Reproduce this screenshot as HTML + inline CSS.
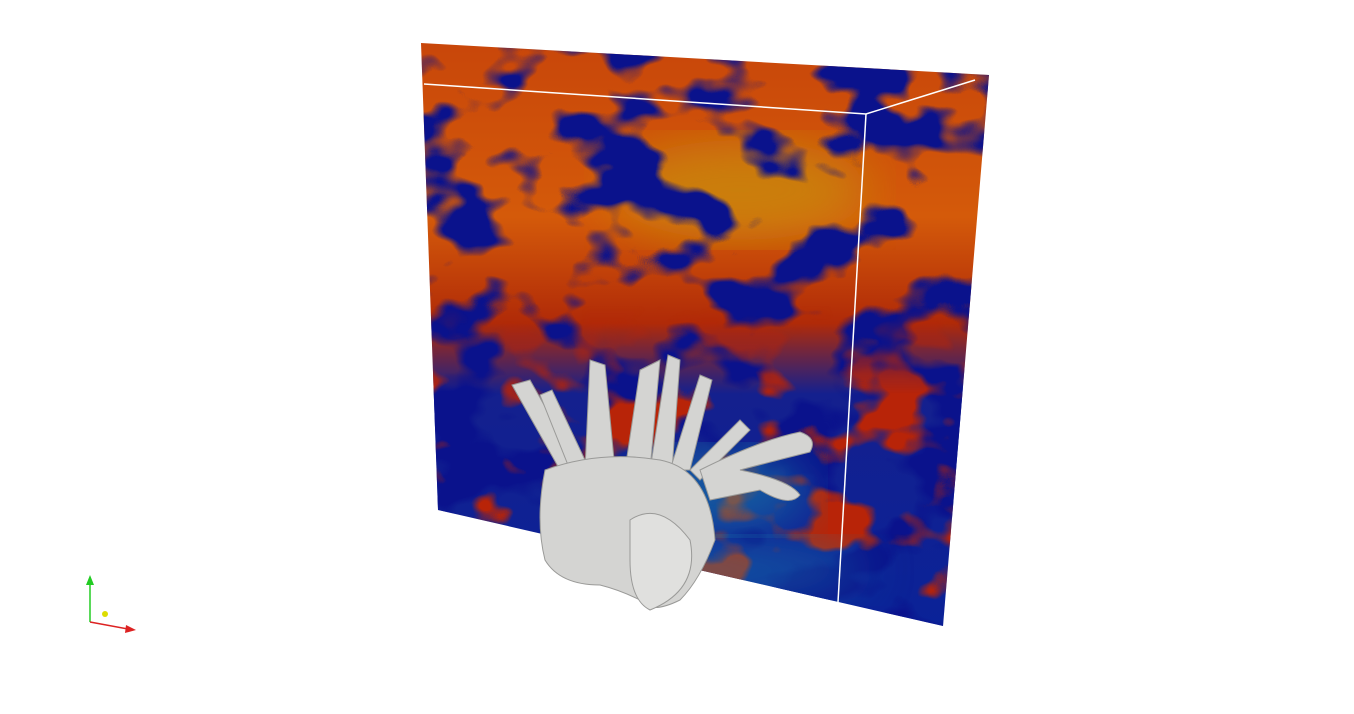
<!DOCTYPE html>
<html><head><meta charset="utf-8"><style>
html,body{margin:0;padding:0;background:#fff;width:1354px;height:714px;overflow:hidden}
</style></head><body>
<svg width="1354" height="714" viewBox="0 0 1354 714" xmlns="http://www.w3.org/2000/svg">
<defs>
<linearGradient id="bg" x1="0" y1="0" x2="0" y2="1">
<stop offset="0" stop-color="#c8460a"/>
<stop offset="0.3" stop-color="#d45a0a"/>
<stop offset="0.48" stop-color="#b02a08"/>
<stop offset="0.6" stop-color="#14208e"/>
<stop offset="1" stop-color="#0a2298"/>
</linearGradient>
<linearGradient id="fadeIn" x1="0" y1="0" x2="0" y2="1">
<stop offset="0" stop-color="#fff" stop-opacity="0"/>
<stop offset="0.45" stop-color="#fff" stop-opacity="0"/>
<stop offset="0.6" stop-color="#fff" stop-opacity="1"/>
<stop offset="1" stop-color="#fff" stop-opacity="1"/>
</linearGradient>
<mask id="bottomMask"><rect x="415" y="40" width="580" height="590" fill="url(#fadeIn)"/></mask>
<clipPath id="quad"><polygon points="421,43 989,75 943,626 438,510"/></clipPath>
<filter id="noise" x="0" y="0" width="100%" height="100%" color-interpolation-filters="sRGB">
<feTurbulence type="fractalNoise" baseFrequency="0.012 0.018" numOctaves="3" seed="7" result="t"/>
<feColorMatrix in="t" type="matrix" values="0 0 0 0 0.04  0 0 0 0 0.07  0 0 0 0 0.55  8 0 0 0 -4.0" result="b"/>
<feComposite in="b" in2="SourceGraphic" operator="in"/>
</filter>
<filter id="noise2" x="0" y="0" width="100%" height="100%" color-interpolation-filters="sRGB">
<feTurbulence type="fractalNoise" baseFrequency="0.014 0.02" numOctaves="3" seed="3" result="t"/>
<feColorMatrix in="t" type="matrix" values="0 0 0 0 0.72  0 0 0 0 0.14  0 0 0 0 0.03  8 0 0 0 -4.2" result="r"/>
<feComposite in="r" in2="SourceGraphic" operator="in"/>
</filter>
<filter id="blur"><feGaussianBlur stdDeviation="25"/></filter>
</defs>
<g clip-path="url(#quad)">
<rect x="415" y="40" width="580" height="590" fill="url(#bg)"/>
<ellipse cx="740" cy="190" rx="130" ry="50" fill="#c8900a" opacity="0.7" filter="url(#blur)"/>
<rect x="415" y="40" width="580" height="590" fill="#000" filter="url(#noise)"/>
<g mask="url(#bottomMask)"><rect x="415" y="40" width="580" height="590" fill="#000" filter="url(#noise2)"/></g>
<ellipse cx="720" cy="490" rx="90" ry="40" fill="#1a9ab0" opacity="0.5" filter="url(#blur)"/>
<ellipse cx="650" cy="570" rx="220" ry="30" fill="#1a8ab0" opacity="0.5" filter="url(#blur)"/>
</g>
<g stroke="#fff" stroke-width="1.5" fill="none">
<polyline points="424,84 866,114 975,80"/>
<line x1="866" y1="114" x2="838" y2="602"/>
</g>
<g fill="#d4d4d2" stroke="#9a9a98" stroke-width="1">
<polygon points="512,385 530,380 575,460 560,470"/>
<polygon points="540,395 552,390 585,460 570,470"/>
<polygon points="590,360 605,365 615,470 585,470"/>
<polygon points="640,370 660,360 650,470 625,470"/>
<polygon points="668,355 680,360 672,470 650,470"/>
<polygon points="700,375 712,380 690,470 670,470"/>
<polygon points="740,420 750,430 700,480 690,470"/>
<path d="M700,470 Q760,440 800,432 Q818,438 810,452 Q770,462 740,470 Q790,480 800,495 Q790,508 760,490 L710,500 Z"/>
<path d="M545,470 Q600,450 660,460 Q710,470 715,540 Q700,580 680,600 Q650,615 640,600 Q620,590 600,585 Q560,585 545,560 Q535,520 545,470 Z"/>
<path d="M630,520 Q660,500 690,540 Q700,590 650,610 Q630,600 630,560 Z" fill="#e0e0de"/>
</g>
<g>
<line x1="90" y1="622" x2="90" y2="582" stroke="#2c2" stroke-width="1.5"/>
<polygon points="86,585 90,575 94,585" fill="#2c2"/>
<line x1="90" y1="622" x2="128" y2="629" stroke="#d22" stroke-width="1.5"/>
<polygon points="126,625 136,630 125,633" fill="#d22"/>
<circle cx="105" cy="614" r="3" fill="#dd0"/>
</g>
</svg>
</body></html>
